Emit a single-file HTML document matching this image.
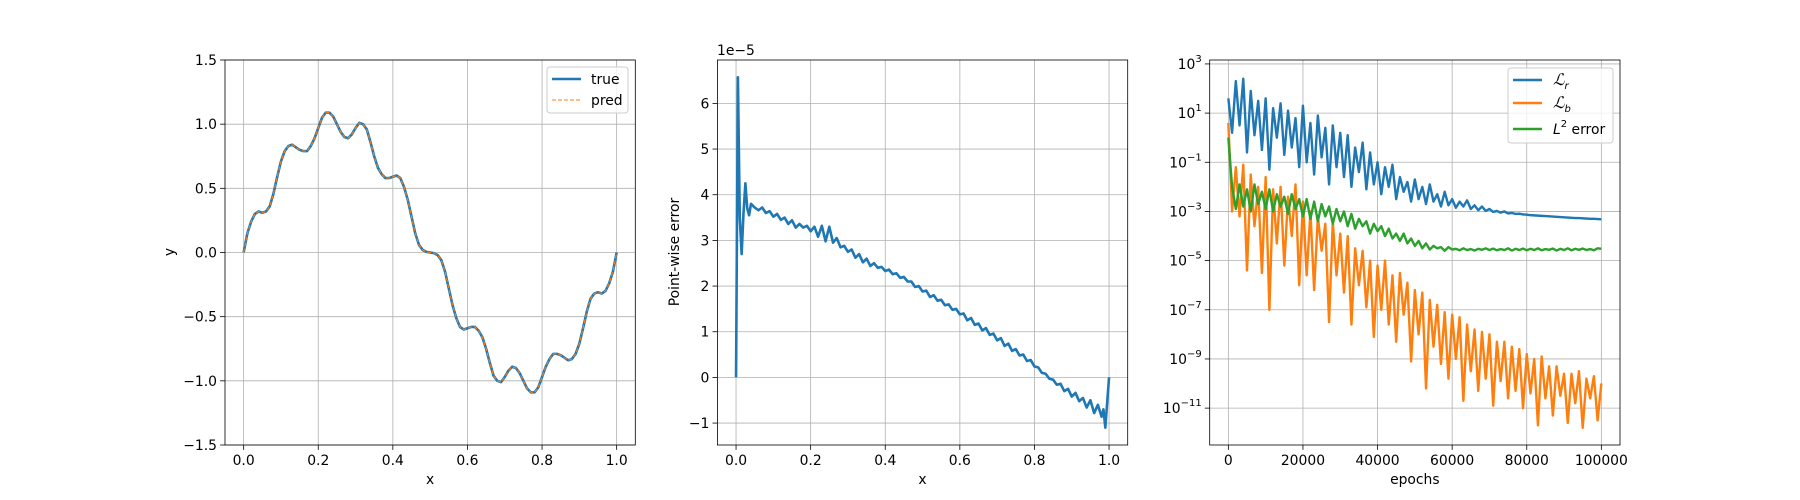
<!DOCTYPE html>
<html><head><meta charset="utf-8"><style>
html,body{margin:0;padding:0;background:#fff;}
svg{display:block;font-family:"DejaVu Sans","Liberation Sans",sans-serif;}
</style></head><body>
<svg id="fig" width="1800" height="500" viewBox="0 0 1800 500" xmlns="http://www.w3.org/2000/svg"></svg>
<script>
// ---------- data ----------
const fnTicksX = [0.0, 0.2, 0.4, 0.6, 0.8, 1.0];
const fnTicksY = [-1.5, -1.0, -0.5, 0.0, 0.5, 1.0, 1.5];
const fnTrue = [0,0.15,0.24,0.30,0.32,0.31,0.32,0.36,0.46,0.59,0.71,0.79,0.83,0.84,0.82,0.80,0.79,0.79,0.83,0.89,0.97,1.05,1.09,1.09,1.06,1.00,0.94,0.90,0.89,0.92,0.97,1.01,1.00,0.96,0.86,0.75,0.66,0.61,0.58,0.58,0.59,0.60,0.58,0.51,0.41,0.28,0.15,0.06,0.02,0.005,0,
-0.005,-0.02,-0.06,-0.15,-0.28,-0.41,-0.51,-0.58,-0.60,-0.59,-0.58,-0.58,-0.61,-0.66,-0.75,-0.86,-0.96,-1.00,-1.01,-0.97,-0.92,-0.89,-0.90,-0.94,-1.00,-1.06,-1.09,-1.09,-1.05,-0.97,-0.89,-0.83,-0.79,-0.79,-0.80,-0.82,-0.84,-0.83,-0.79,-0.71,-0.59,-0.46,-0.36,-0.32,-0.31,-0.32,-0.30,-0.24,-0.15,0];
const fnPred = fnTrue.slice();

const errTicksY = [-1, 0, 1, 2, 3, 4, 5, 6];
const errX = [0,0.005,0.01,0.015,0.02,0.025,0.03,0.035,0.04,0.05,
0.06,0.07,0.08,0.09,0.10,0.11,0.12,0.13,0.14,0.15,0.16,0.17,0.18,0.19,0.20,0.21,0.22,0.23,0.24,0.25,0.26,0.27,0.28,0.29,0.30,0.31,0.32,0.33,0.34,0.35,0.36,0.37,0.38,0.39,0.40,0.41,0.42,0.43,0.44,0.45,0.46,0.47,0.48,0.49,0.50,0.51,0.52,0.53,0.54,0.55,0.56,0.57,0.58,0.59,0.60,0.61,0.62,0.63,0.64,0.65,0.66,0.67,0.68,0.69,0.70,0.71,0.72,0.73,0.74,0.75,0.76,0.77,0.78,0.79,0.80,0.81,0.82,0.83,0.84,0.85,0.86,0.87,0.88,0.89,0.90,0.91,0.92,0.93,0.94,0.95,0.96,0.97,0.98,0.985,0.99,1.0];
const errY = [0,6.57,3.5,2.7,3.6,4.25,3.7,3.55,3.8,3.72,
3.66,3.72,3.6,3.64,3.52,3.58,3.45,3.5,3.36,3.44,3.28,3.36,3.28,3.32,3.2,3.3,3.08,3.32,2.98,3.3,2.95,3.05,2.85,2.88,2.75,2.8,2.62,2.7,2.52,2.6,2.44,2.5,2.4,2.42,2.33,2.36,2.26,2.28,2.18,2.2,2.1,2.1,1.98,2.0,1.88,1.9,1.76,1.8,1.68,1.7,1.58,1.6,1.48,1.5,1.38,1.4,1.25,1.3,1.15,1.18,1.03,1.08,0.93,0.96,0.81,0.86,0.69,0.74,0.58,0.62,0.48,0.5,0.36,0.38,0.24,0.22,0.1,0.08,-0.03,-0.05,-0.16,-0.14,-0.3,-0.25,-0.42,-0.34,-0.52,-0.45,-0.66,-0.5,-0.78,-0.6,-0.86,-0.7,-1.1,0];

const epochTicks = [0, 20000, 40000, 60000, 80000, 100000];
const logTicks = [3, 1, -1, -3, -5, -7, -9, -11];
const epochStep = 1000;
const lossR = [1.6,0.2,2.3,0.5,2.4,-0.6,1.9,0.1,1.5,-0.5,1.6,
-1.3,1.2,0.0,1.4,-0.7,1.1,-0.4,0.8,-1.2,1.3,
-1.0,0.6,-1.5,0.9,-0.8,0.4,-1.9,0.5,-1.2,0.2,
-1.6,0.1,-2.0,-0.4,-1.4,-0.2,-2.1,-0.6,-1.9,-1.0,
-2.3,-1.2,-2.0,-1.1,-2.5,-1.6,-2.2,-1.8,-2.6,-1.7,
-2.5,-2.0,-2.7,-1.9,-2.6,-2.3,-2.8,-2.2,-2.75,-2.5,
-2.85,-2.6,-2.8,-2.55,-2.9,-2.75,-2.95,-2.8,-2.98,-2.9,
-3.02,-2.98,-3.05,-3.0,-3.08,-3.06,-3.1,-3.09,-3.12,-3.13,
-3.15,-3.16,-3.17,-3.18,-3.19,-3.2,-3.21,-3.22,-3.23,-3.24,
-3.25,-3.26,-3.27,-3.27,-3.28,-3.29,-3.3,-3.3,-3.31,-3.32];
const lossB = [0.6,-3.0,-1.2,-3.2,-1.1,-5.4,-1.5,-3.6,-2.0,-5.5,-1.6,
-7.0,-2.1,-4.3,-2.0,-5.2,-2.4,-4.0,-1.9,-6.0,-2.6,
-5.6,-3.0,-6.2,-3.2,-4.6,-3.5,-7.5,-3.4,-5.6,-3.9,
-6.3,-4.0,-7.6,-4.5,-6.0,-4.6,-6.9,-5.0,-8.1,-5.2,
-7.0,-5.0,-7.6,-5.6,-8.3,-5.5,-7.2,-5.9,-9.1,-6.2,
-8.0,-6.3,-10.2,-6.6,-8.5,-6.8,-9.2,-7.1,-9.8,-7.2,
-9.0,-7.3,-10.7,-7.6,-9.5,-7.8,-10.3,-7.9,-9.8,-8.0,
-10.9,-8.3,-9.9,-8.3,-10.6,-8.5,-10.3,-8.6,-11.0,-8.8,
-10.4,-9.0,-11.7,-8.9,-10.6,-9.3,-11.3,-9.3,-10.5,-9.6,
-11.6,-9.6,-10.8,-9.5,-11.8,-9.8,-10.6,-9.7,-11.5,-10.0];
const l2Err = [0.0,-2.0,-2.9,-1.9,-2.8,-2.1,-3.0,-1.9,-2.7,-2.2,-2.9,
-2.1,-3.0,-2.3,-2.8,-2.4,-3.1,-2.3,-2.9,-2.5,-3.2,
-2.5,-3.3,-2.6,-3.4,-2.7,-3.2,-2.8,-3.5,-2.9,-3.4,
-3.0,-3.6,-3.1,-3.7,-3.3,-3.6,-3.4,-3.9,-3.5,-3.8,
-3.6,-4.0,-3.7,-4.1,-3.9,-4.2,-3.9,-4.3,-4.1,-4.4,
-4.2,-4.5,-4.3,-4.55,-4.4,-4.5,-4.45,-4.6,-4.45,-4.55,
-4.52,-4.58,-4.5,-4.57,-4.53,-4.59,-4.52,-4.56,-4.5,-4.57,
-4.51,-4.58,-4.53,-4.57,-4.5,-4.59,-4.52,-4.57,-4.51,-4.58,
-4.52,-4.57,-4.5,-4.58,-4.53,-4.56,-4.51,-4.59,-4.52,-4.57,
-4.5,-4.58,-4.52,-4.56,-4.51,-4.57,-4.53,-4.58,-4.5,-4.52];

// ---------- drawing ----------
const NS = "http://www.w3.org/2000/svg";
const svg = document.getElementById('fig');
function mk(tag, attrs, parent) {
  const e = document.createElementNS(NS, tag);
  for (const k in attrs) e.setAttribute(k, attrs[k]);
  (parent || svg).appendChild(e);
  return e;
}
const TOP = 60, BOT = 445, W = 410.3;
const axes = [
  {x0: 225, xmin: -0.05, xmax: 1.05, ymin: -1.5, ymax: 1.5},
  {x0: 717.4, xmin: -0.05, xmax: 1.05, ymin: -1.48, ymax: 6.95},
  {x0: 1209.7, xmin: -5000, xmax: 105000, ymin: -12.5, ymax: 3.16}
];
function sx(a, v) { return a.x0 + (v - a.xmin) / (a.xmax - a.xmin) * W; }
function sy(a, v) { return BOT - (v - a.ymin) / (a.ymax - a.ymin) * (BOT - TOP); }
const fmt = v => (v < 0 ? '\u2212' : '') + Math.abs(v).toFixed(1);

function frame(a, name) {
  const g = mk('g', {});
  
  
  return g;
}
function gridX(a, g, vals, labels) {
  vals.forEach((v, i) => {
    const x = sx(a, v);
    const l = mk('line', {x1: x, x2: x, y1: TOP, y2: BOT, stroke: '#b0b0b0', 'stroke-width': 0.8}, g);
    
    
    mk('line', {x1: x, x2: x, y1: BOT, y2: BOT + 4.9, stroke: '#000', 'stroke-width': 0.8}, g);
    const t = mk('text', {x: x, y: BOT + 20, 'font-size': 13.9, 'text-anchor': 'middle', fill: '#000'}, g);
    t.textContent = labels[i];
    
    
  });
}
function gridY(a, g, vals, labels) {
  vals.forEach((v, i) => {
    const y = sy(a, v);
    const l = mk('line', {x1: a.x0, x2: a.x0 + W, y1: y, y2: y, stroke: '#b0b0b0', 'stroke-width': 0.8}, g);
    
    
    mk('line', {x1: a.x0 - 4.9, x2: a.x0, y1: y, y2: y, stroke: '#000', 'stroke-width': 0.8}, g);
    const t = mk('text', {x: a.x0 - 8, y: y + 5, 'font-size': 13.9, 'text-anchor': 'end', fill: '#000'}, g);
    t.textContent = labels[i];
    
    
  });
}
function spines(a, g) {
  const r = mk('rect', {x: a.x0, y: TOP, width: W, height: BOT - TOP, fill: 'none', stroke: '#000', 'stroke-width': 0.8}, g);
  
  
}
function line(a, g, xs, ys, color, w, dash, name) {
  let d = '';
  xs.forEach((x, i) => { d += (i ? 'L' : 'M') + sx(a, x).toFixed(2) + ',' + sy(a, ys[i]).toFixed(2); });
  const p = mk('path', {d: d, fill: 'none', stroke: color, 'stroke-width': w, 'stroke-linejoin': 'round'}, g);
  if (dash) p.setAttribute('stroke-dasharray', dash);
  
  
  return p;
}
function label(x, y, txt, name, rot) {
  const t = mk('text', {x: x, y: y, 'font-size': 13.9, 'text-anchor': 'middle', fill: '#000'});
  if (rot) t.setAttribute('transform', 'rotate(-90 ' + x + ' ' + y + ')');
  t.textContent = txt;
  
  
}

// Panel 1
const a1 = axes[0];
const g1 = frame(a1, 'function-plot');
gridX(a1, g1, fnTicksX, fnTicksX.map(fmt));
gridY(a1, g1, fnTicksY, fnTicksY.map(fmt));
const fnX = fnTrue.map((_, i) => i / (fnTrue.length - 1));
line(a1, g1, fnX, fnTrue, '#1f77b4', 2.6, null, 'true-line');
line(a1, g1, fnX, fnPred, '#ff7f0e', 1.1, '4,2', 'pred-line');
spines(a1, g1);
label(a1.x0 + W / 2, 484, 'x', 'x-axis-title');
label(174, 252, 'y', 'y-axis-title', true);
const lg1 = mk('g', {});  
mk('rect', {x: 547, y: 67, width: 81, height: 46, rx: 3, fill: '#fff', 'fill-opacity': 0.8, stroke: '#ccc', 'stroke-width': 1}, lg1);
mk('line', {x1: 552, x2: 581, y1: 79, y2: 79, stroke: '#1f77b4', 'stroke-width': 2.6}, lg1);
mk('line', {x1: 552, x2: 581, y1: 100, y2: 100, stroke: '#ff7f0e', 'stroke-width': 1.1, 'stroke-dasharray': '4,2'}, lg1);
let t = mk('text', {x: 591, y: 84, 'font-size': 13.9}, lg1); t.textContent = 'true';
 
t = mk('text', {x: 591, y: 105, 'font-size': 13.9}, lg1); t.textContent = 'pred';
 

// Panel 2
const a2 = axes[1];
const g2 = frame(a2, 'error-plot');
gridX(a2, g2, fnTicksX, fnTicksX.map(fmt));
gridY(a2, g2, errTicksY, errTicksY.map(v => (v < 0 ? '\u2212' : '') + Math.abs(v)));
line(a2, g2, errX, errY, '#1f77b4', 2.6, null, 'error-line');
spines(a2, g2);
label(a2.x0 + W / 2, 484, 'x', 'x-axis-title');
label(679, 252, 'Point-wise error', 'y-axis-title', true);
t = mk('text', {x: 717, y: 55, 'font-size': 13.9}); t.textContent = '1e\u22125';
 

// Panel 3
const a3 = axes[2];
const g3 = frame(a3, 'loss-plot');
gridX(a3, g3, epochTicks, epochTicks.map(String));
logTicks.forEach(v => {
  const y = sy(a3, v);
  const l = mk('line', {x1: a3.x0, x2: a3.x0 + W, y1: y, y2: y, stroke: '#b0b0b0', 'stroke-width': 0.8}, g3);
   
  mk('line', {x1: a3.x0 - 4.9, x2: a3.x0, y1: y, y2: y, stroke: '#000', 'stroke-width': 0.8}, g3);
  const tt = mk('text', {x: a3.x0 - 8, y: y + 5, 'font-size': 13.9, 'text-anchor': 'end'}, g3);
  const b = mk('tspan', {}, tt); b.textContent = '10';
  const s = mk('tspan', {dy: -7, 'font-size': 10}, tt); s.textContent = (v < 0 ? '\u2212' : '') + Math.abs(v);
   
});
const ep = lossR.map((_, i) => i * epochStep);
line(a3, g3, ep, lossR, '#1f77b4', 2.4, null, 'loss-r-line');
line(a3, g3, ep, lossB, '#ff7f0e', 2.4, null, 'loss-b-line');
line(a3, g3, ep, l2Err, '#2ca02c', 2.4, null, 'l2-error-line');
spines(a3, g3);
label(a3.x0 + W / 2, 484, 'epochs', 'x-axis-title');
const lg3 = mk('g', {});  
mk('rect', {x: 1508, y: 68, width: 105, height: 75, rx: 3, fill: '#fff', 'fill-opacity': 0.8, stroke: '#ccc', 'stroke-width': 1}, lg3);
[['#1f77b4', 80, 'r', 'legend-entry-lr'], ['#ff7f0e', 103, 'b', 'legend-entry-lb'], ['#2ca02c', 129, null, 'legend-entry-l2']].forEach(e => {
  mk('line', {x1: 1513, x2: 1542, y1: e[1], y2: e[1], stroke: e[0], 'stroke-width': 2.6}, lg3);
  const tx = mk('text', {x: 1553, y: e[1] + 5, 'font-size': 13.9}, lg3);
  if (e[2]) {
    const a = mk('tspan', {'font-style': 'italic', 'font-family': '"Liberation Serif",serif', 'font-size': 16}, tx); a.textContent = '\u2112';
    const s = mk('tspan', {dy: 4, 'font-size': 10, 'font-style': 'italic'}, tx); s.textContent = e[2];
  } else {
    const a = mk('tspan', {'font-style': 'italic'}, tx); a.textContent = 'L';
    const s = mk('tspan', {dy: -7, 'font-size': 10}, tx); s.textContent = '2';
    const r = mk('tspan', {dy: 7}, tx); r.textContent = ' error';
  }
   
});
</script>
</body></html>
